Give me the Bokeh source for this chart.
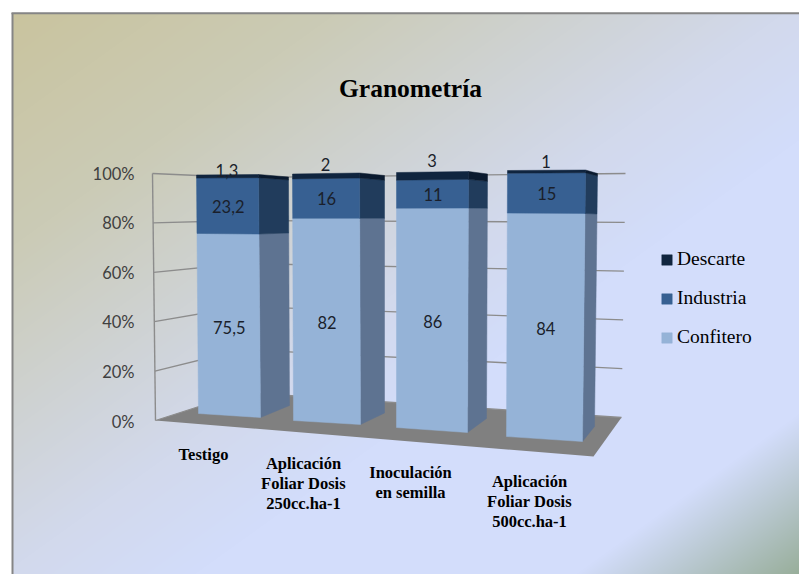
import numpy as np
from bokeh.core.properties import value
from bokeh.embed import file_html
from bokeh.models import Legend, LegendItem, Range1d
from bokeh.plotting import figure
from bokeh.resources import INLINE

# Chart content
title = "Granometría"
categories = ["Testigo", "Aplicación\nFoliar Dosis\n250cc.ha-1", "Inoculación\nen semilla", "Aplicación\nFoliar Dosis\n500cc.ha-1"]
confitero = [75.5, 82, 86, 84]
industria = [23.2, 16, 11, 15]
descarte = [1.3, 2, 3, 1]
confitero_labels = ["75,5", "82", "86", "84"]
industria_labels = ["23,2", "16", "11", "15"]
descarte_labels = ["1,3", "2", "3", "1"]
ticks = [0, 20, 40, 60, 80, 100]
tick_labels = ["0%", "20%", "40%", "60%", "80%", "100%"]

# Perspective box of each column on the page: (x, y) of front-left, front-right, back-right corners
bar_bottom = [[(198, 413), (260, 417), (289, 405)],
              [(293, 420), (360, 424), (384, 412.5)],
              [(396, 427), (467, 432), (486, 418)],
              [(506, 436), (582, 441), (594, 426)]]
bar_top = [[(196, 174.5), (258, 174), (288, 176.5)],
           [(292, 173.5), (359, 172.5), (384, 175)],
           [(396, 172), (468, 171), (487, 173.5)],
           [(507, 170), (585, 169.5), (597, 173)]]
descarte_lift = [4, 9, 12, 9]
category_anchor = [(203, 454), (303, 483), (410, 482), (529, 501)]

# Perspective frame of the walls and floor
wall_left = [(155, 420), (152, 173)]
wall_corner = [(242, 392), (242, 177)]
wall_right = [(621, 417), (625, 173)]
floor_x = [155, 242, 621, 593]
floor_y = [420, 392, 417, 456]


def lerp(bottom, top, pct):
    f = pct / 100
    return bottom[0] + (top[0] - bottom[0]) * f, bottom[1] + (top[1] - bottom[1]) * f


def face(i, a, b, lo, hi):
    """Quad between stack levels lo and hi, spanning corners a and b of column i."""
    p0 = lerp(bar_bottom[i][a], bar_top[i][a], lo)
    p1 = lerp(bar_bottom[i][b], bar_top[i][b], lo)
    p2 = lerp(bar_bottom[i][b], bar_top[i][b], hi)
    p3 = lerp(bar_bottom[i][a], bar_top[i][a], hi)
    return [p0[0], p1[0], p2[0], p3[0]], [p0[1], p1[1], p2[1], p3[1]]


def slide_background():
    w, h = 787, 561
    yy, xx = np.mgrid[0:h, 0:w]
    t = ((xx + 12) / 799 + (yy + 13) / 574) / 2
    stops = [0.0, 0.22, 0.5, 0.62, 0.86, 1.0]
    r = np.interp(t, stops, [0xc9, 0xcb, 0xd2, 0xd3, 0xd3, 0x98])
    g = np.interp(t, stops, [0xc3, 0xcb, 0xd9, 0xdd, 0xdd, 0xae])
    b = np.interp(t, stops, [0x9c, 0xb6, 0xec, 0xfb, 0xfb, 0x9a])
    img = np.zeros((h, w), dtype=np.uint32)
    view = img.view(dtype=np.uint8).reshape((h, w, 4))
    view[..., 0], view[..., 1], view[..., 2], view[..., 3] = r, g, b, 255
    return img


p = figure(width=799, height=574, x_range=Range1d(0, 799), y_range=Range1d(574, 0),
           toolbar_location=None, output_backend="svg", x_axis_type=None, y_axis_type=None,
           min_border=0, outline_line_color=None, background_fill_color="#ffffff",
           border_fill_color="#ffffff")
p.grid.visible = False

# Slide panel with its grey edge on the top and left
p.image_rgba(image=[slide_background()], x=12, y=13, dw=787, dh=561)
p.line([12, 12], [574, 12.5], line_color="#858585", line_width=2)
p.line([11, 799], [12.8, 12.8], line_color="#858585", line_width=2)

# Floor and walls
p.patch(floor_x, floor_y, fill_color="#808080", line_color=None)
grid_xs, grid_ys = [], []
for t in ticks:
    a, b, c = lerp(wall_left[0], wall_left[1], t), lerp(wall_corner[0], wall_corner[1], t), lerp(wall_right[0], wall_right[1], t)
    grid_xs.append([a[0], b[0], c[0]])
    grid_ys.append([a[1], b[1], c[1]])
p.multi_line(grid_xs, grid_ys, line_color="#8c8c8c", line_width=1.3)
p.line([wall_left[0][0], wall_left[1][0]], [wall_left[0][1], wall_left[1][1]], line_color="#8c8c8c", line_width=1.4)

# Columns: back to front, one stacked series at a time
series = [("Confitero", confitero, "#95b3d7", "#5e7391"),
          ("Industria", industria, "#376092", "#213c5c"),
          ("Descarte", descarte, "#10253f", "#0a1a2f")]
legend_renderers = {}
base = [0.0] * 4
levels = []
for name, vals, front, side in series:
    tops = [b + v for b, v in zip(base, vals)]
    sx, sy, fx, fy = [], [], [], []
    for i in range(4):
        x, y = face(i, 1, 2, base[i], tops[i])
        sx.append(x)
        sy.append(y)
        x, y = face(i, 0, 1, base[i], tops[i])
        fx.append(x)
        fy.append(y)
    p.patches(sx, sy, fill_color=side, line_color=side, line_width=0.5)
    legend_renderers[name] = p.patches(fx, fy, fill_color=front, line_color=front, line_width=0.5)
    levels.append((list(base), tops))
    base = tops

# Value labels
label_font = value("Lato")
lab_x, lab_y, lab_text = [], [], []
for (lo, hi), texts, nudge in zip(levels[:2], [confitero_labels, industria_labels], [2.5, 0.5]):
    for i in range(4):
        x, y = lerp(lerp(bar_bottom[i][0], bar_bottom[i][1], 50), lerp(bar_top[i][0], bar_top[i][1], 50), (lo[i] + hi[i]) / 2)
        lab_x.append(x + 0.5)
        lab_y.append(y + nudge)
        lab_text.append(texts[i])
for i in range(4):
    x, y = lerp(bar_top[i][0], bar_top[i][1], 50)
    lab_x.append(x - 0.5)
    lab_y.append(y - descarte_lift[i])
    lab_text.append(descarte_labels[i])
p.text(lab_x, lab_y, text=lab_text, text_font=label_font, text_font_size="16.5px",
       text_color="#1a1f2b", text_align="center", text_baseline="middle")

# Percent scale
tick_y = [lerp((0, 421), (0, 173), t)[1] for t in ticks]
p.text([134] * len(ticks), tick_y, text=tick_labels, text_font=label_font, text_font_size="16.5px",
       text_color="#404040", text_align="right", text_baseline="middle")

# Category names
p.text([a[0] for a in category_anchor], [a[1] for a in category_anchor], text=categories,
       text_font=value("Liberation Serif"), text_font_style="bold", text_font_size="16.5px",
       text_line_height=1.07, text_color="#000000", text_align="center", text_baseline="middle")

# Chart title
p.text([410], [88], text=[title], text_font=value("Liberation Serif"), text_font_style="bold",
       text_font_size="25.5px", text_color="#000000", text_align="center", text_baseline="middle")

legend = Legend(items=[LegendItem(label=n, renderers=[legend_renderers[n]]) for n in ["Descarte", "Industria", "Confitero"]],
                location=(660, 226), orientation="vertical", margin=0, padding=0,
                border_line_color=None, background_fill_alpha=0, glyph_width=13, glyph_height=13,
                label_standoff=4, spacing=17, label_text_font="Liberation Serif",
                label_text_font_size="19.5px", label_text_color="#000000")
p.add_layout(legend)

open("out.html", "w").write(file_html(p, INLINE))
